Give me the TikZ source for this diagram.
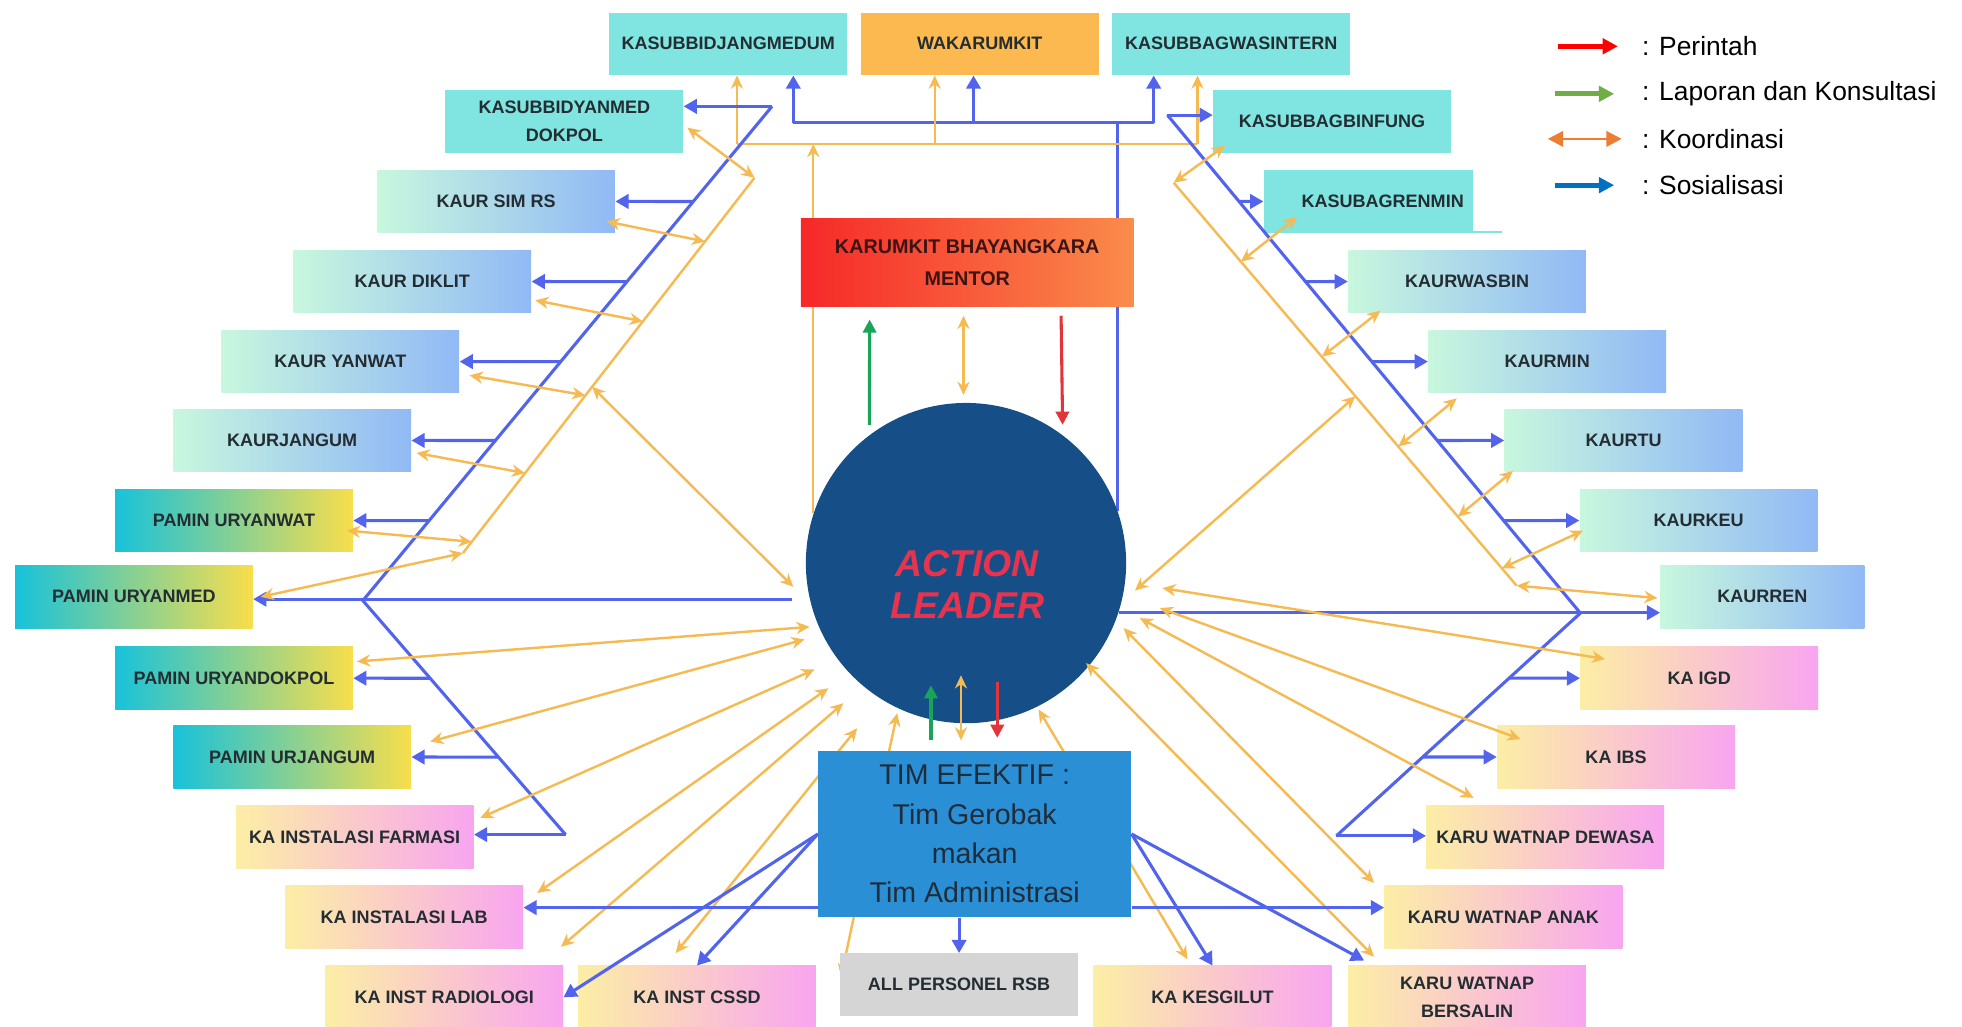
\documentclass[tikz,border=0pt]{standalone}
\usepackage{fontspec}
\setmainfont{Liberation Sans}
\usetikzlibrary{arrows.meta,calc,backgrounds}
\definecolor{txt}{RGB}{35,45,50}
\definecolor{cyanb}{RGB}{128,228,225}
\definecolor{wakab}{RGB}{251,185,80}
\definecolor{greyb}{RGB}{213,213,213}
\definecolor{mint}{RGB}{200,247,222}
\definecolor{skyb}{RGB}{145,185,245}
\definecolor{tealb}{RGB}{24,194,218}
\definecolor{yelb}{RGB}{248,222,75}
\definecolor{creamb}{RGB}{252,238,165}
\definecolor{pinkb}{RGB}{248,165,240}
\definecolor{redb}{RGB}{246,40,40}
\definecolor{orgb}{RGB}{250,140,75}
\definecolor{circ}{RGB}{22,79,135}
\definecolor{timb}{RGB}{43,143,214}
\definecolor{actred}{RGB}{232,51,79}
\definecolor{blu}{RGB}{82,100,235}
\definecolor{org}{RGB}{246,186,82}
\definecolor{grn}{RGB}{24,165,88}
\definecolor{rd}{RGB}{226,52,58}
\definecolor{lgred}{RGB}{255,0,0}
\definecolor{lggreen}{RGB}{112,173,71}
\definecolor{lgorange}{RGB}{237,125,49}
\definecolor{lgblue}{RGB}{0,112,192}
\begin{document}
\begin{tikzpicture}[x=0.02cm,y=-0.02cm,
    box/.style={minimum width=3.8cm,minimum height=1cm,inner sep=0pt,align=center,text=txt,
      font=\bfseries\fontsize{8.2}{12.5}\selectfont},
    cyanbox/.style={box,fill=cyanb},
    kaurbox/.style={box,left color=mint,right color=skyb},
    paminbox/.style={box,left color=tealb,right color=yelb},
    kabox/.style={box,left color=creamb,right color=pinkb},
    sosline/.style={blu,line width=1.4pt},
    sos/.style={sosline,-{Triangle[length=6pt,width=6.5pt]}},
    koline/.style={org,line width=1.1pt},
    koarr/.style={koline,-{Stealth[length=6pt,width=5.5pt]}},
    koord/.style={koline,{Stealth[length=6pt,width=5.5pt]}-{Stealth[length=6pt,width=5.5pt]}},
    lapor/.style={grn,line width=1.4pt,-{Triangle[length=6pt,width=6pt]}},
    perin/.style={rd,line width=1.4pt,-{Triangle[length=6pt,width=6pt]}},
    lgtext/.style={anchor=west,inner sep=0pt,font=\fontsize{12}{14}\selectfont},
    lgarr/.style={line width=2.2pt,-{Triangle[length=7pt,width=7pt]}}]
\useasboundingbox (0,0) rectangle (1568,820);
\node[cyanbox] (jangmed) at (582,35) {KASUBBIDJANGMEDUM};
\node[box,fill=wakab] (waka) at (783,35) {WAKARUMKIT};
\node[cyanbox] (wasintern) at (984,35) {KASUBBAGWASINTERN};
\node[cyanbox] (yanmed) at (451,97) {KASUBBIDYANMED\\DOKPOL};
\node[cyanbox] (binfung) at (1064.5,97) {KASUBBAGBINFUNG};
\node[cyanbox] (renmin) at (1105,161) {KASUBAGRENMIN};
\fill[white] (1177,0) rectangle (1568,185);
\node[kaurbox] (simrs) at (396.5,161) {KAUR SIM RS};
\node[kaurbox] (diklit) at (329.5,225) {KAUR DIKLIT};
\node[kaurbox] (yanwat) at (272,289) {KAUR YANWAT};
\node[kaurbox] (jangum) at (233.5,352) {KAURJANGUM};
\node[paminbox] (pyanwat) at (187,416) {PAMIN URYANWAT};
\node[paminbox] (pyanmed) at (107,477) {PAMIN URYANMED};
\node[paminbox] (pdokpol) at (187,542) {PAMIN URYANDOKPOL};
\node[paminbox] (pjangum) at (233.5,605) {PAMIN URJANGUM};
\node[kabox] (farmasi) at (283.5,669) {KA INSTALASI FARMASI};
\node[kabox] (lab) at (323,733) {KA INSTALASI LAB};
\node[kabox] (radiologi) at (355,797) {KA INST RADIOLOGI};
\node[kabox] (cssd) at (557,797) {KA INST CSSD};
\node[box,fill=greyb] (allpers) at (766.5,787) {ALL PERSONEL RSB};
\node[kabox] (kesgilut) at (969,797) {KA KESGILUT};
\node[kabox] (bersalin) at (1172.5,797) {KARU WATNAP\\BERSALIN};
\node[kabox] (anak) at (1201.5,733) {KARU WATNAP ANAK};
\node[kabox] (dewasa) at (1235,669) {KARU WATNAP DEWASA};
\node[kabox] (ibs) at (1291.5,605) {KA IBS};
\node[kabox] (igd) at (1358,542) {KA IGD};
\node[kaurbox,minimum width=3.26cm] (kaurren) at (1408.5,477) {KAURREN};
\node[kaurbox] (kaurkeu) at (1357.5,416) {KAURKEU};
\node[kaurbox] (kaurtu) at (1297.5,352) {KAURTU};
\node[kaurbox] (kaurmin) at (1236.5,289) {KAURMIN};
\node[kaurbox] (wasbin) at (1172.5,225) {KAURWASBIN};
\node[box,minimum width=5.32cm,minimum height=1.4cm,left color=redb,right color=orgb,
  text={rgb,255:red,60;green,20;blue,20},font=\bfseries\fontsize{9}{14.2}\selectfont]
  (karumkit) at (773,210) {KARUMKIT BHAYANGKARA\\MENTOR};
\node[circle,fill=circ,minimum size=5.12cm,inner sep=0pt] (al) at (772,450) {};
\node[align=center,text=actred,font=\bfseries\itshape\fontsize{17}{19.3}\selectfont] (altext) at (773,467) {ACTION\\LEADER};
\node[box,minimum width=5cm,minimum height=2.66cm,fill=timb,text={rgb,255:red,30;green,45;blue,60},
  font=\fontsize{13}{17.8}\selectfont] (tim) at (779,666.5) {TIM EFEKTIF :\\Tim Gerobak\\makan\\Tim Administrasi};
\coordinate (lbT) at (617,85);
\coordinate (lbV) at (290,480);
\coordinate (lbB) at (452,667);
\coordinate (rbT) at (933,92);
\coordinate (rbV) at (1263,490);
\coordinate (rbB) at (1068,668);
\coordinate (loT) at (603,142);
\coordinate (loB) at (370,442);
\coordinate (roT) at (938,146);
\coordinate (roB) at (1212,468);
\coordinate (bbL) at (634,98);
\coordinate (bbR) at (922,98);
\coordinate (bbM) at ($(bbL)!0.5!(bbR)$);
\coordinate (obL) at (589,115);
\coordinate (obM) at (747,115);
\coordinate (obR) at (957,115);
\coordinate (clsp) at (634,469);
\coordinate (crsp) at (907,472);
\coordinate (cdok) at (647,501);
\coordinate (cpjg) at (643,511);
\coordinate (cfar) at (651,535);
\coordinate (clab) at (662,550);
\coordinate (crad) at (674,562);
\coordinate (ccss) at (685,582);
\coordinate (call) at (717,570);
\coordinate (ckes) at (830,567);
\coordinate (cber) at (868,530);
\coordinate (cana) at (898,502);
\coordinate (cdew) at (911,494);
\coordinate (cibs) at (927,486);
\coordinate (cigd) at (929,470);
\coordinate (tl) at ($(tim.south west)+(0,-8)$);
\coordinate (tr) at ($(tim.south east)+(0,-8)$);
\begin{pgfonlayer}{background}
\fill[white] (0,0) rectangle (1568,820);
\draw[koarr] (al.162) -- (al.162 |- obL);
\draw[sosline] (al.19) -- (al.19 |- bbL);
\draw[koord] ([shift={(-17,-10)}]cssd.north) -- (ccss);
\draw[koord] ([shift={(1,19)}]allpers.north west) -- (call);
\draw[koord] ([shift={(-20,-5)}]kesgilut.north) -- (ckes);
\end{pgfonlayer}
\draw[sosline] (bbL) -- (bbR);
\draw[sos] (bbL) -- (bbL |- jangmed.south);
\draw[sos] (bbM) -- (bbM |- waka.south);
\draw[sos] (bbR) -- (bbR |- wasintern.south);
\draw[koline] (obL) -- (obR);
\draw[koarr] (obL) -- (obL |- jangmed.south);
\draw[koarr] (obM) -- (obM |- waka.south);
\draw[koarr] (obR) -- (obR |- wasintern.south);
\draw[sosline] (lbT) -- (lbV) -- (lbB);
\draw[sos] (lbT) -- (lbT -| yanmed.east);
\foreach \b in {simrs,diklit,yanwat,jangum,pyanwat}
  \draw[sos] (intersection of lbT--lbV and \b.west--\b.east) -- (\b.east);
\foreach \b in {pdokpol,pjangum}
  \draw[sos] (intersection of lbV--lbB and \b.west--\b.east) -- (\b.east);
\draw[sos] (lbB) -- (lbB -| farmasi.east);
\draw[sos,shorten <=8pt] (al.193) -- (al.193 -| pyanmed.east);
\draw[sosline] (rbT) -- (rbV) -- (rbB);
\draw[sos] (rbT) -- (rbT -| binfung.west);
\foreach \b in {renmin,wasbin,kaurmin,kaurtu,kaurkeu}
  \draw[sos] (intersection of rbT--rbV and \b.west--\b.east) -- (\b.west);
\foreach \b in {igd,ibs}
  \draw[sos] (intersection of rbV--rbB and \b.west--\b.east) -- (\b.west);
\draw[sos] (rbB) -- (rbB -| dewasa.west);
\draw[sos] (al.-18) -- (al.-18 -| kaurren.west);
\draw[koline] (loT) -- (loB);
\draw[koord] ([shift={(3,5)}]yanmed.east) -- (loT);
\draw[koord] ([shift={(-7,16)}]simrs.east) -- ($(loT)!0.17!(loB)$);
\draw[koord] ([shift={(3,15)}]diklit.east) -- ($(loT)!0.383!(loB)$);
\draw[koord] ([shift={(8,11)}]yanwat.east) -- ($(loT)!0.58!(loB)$);
\draw[koord] ([shift={(4,10)}]jangum.east) -- ($(loT)!0.787!(loB)$);
\draw[koord] ([shift={(-5,8)}]pyanwat.east) -- ($(loT)!0.97!(loB)$);
\draw[koord] ([shift={(6,0)}]pyanmed.east) -- (loB);
\draw[koord] (clsp) -- ($(loT)!0.557!(loB)$);
\draw[koline] (roT) -- (roB);
\draw[koord] ([shift={(10,-6)}]binfung.south west) -- (roT);
\draw[koord] ([shift={(27,-13)}]renmin.south west) -- ($(roT)!0.196!(roB)$);
\draw[koord] ([shift={(26,-2)}]wasbin.south west) -- ($(roT)!0.432!(roB)$);
\draw[koord] ([shift={(23,4)}]kaurmin.south west) -- ($(roT)!0.655!(roB)$);
\draw[koord] ([shift={(7,-1)}]kaurtu.south west) -- ($(roT)!0.829!(roB)$);
\draw[koord] ([shift={(3,8)}]kaurkeu.west) -- ($(roT)!0.957!(roB)$);
\draw[koord] ([shift={(-2,1)}]kaurren.west) -- (roB);
\draw[koord] (crsp) -- ($(roT)!0.53!(roB)$);
\draw[koord] ([shift={(3,12)}]pdokpol.north east) -- (cdok);
\draw[koord] ([shift={(15,13)}]pjangum.north east) -- (cpjg);
\draw[koord] ([shift={(5,10)}]farmasi.north east) -- (cfar);
\draw[koord] ([shift={(11,6)}]lab.north east) -- (clab);
\draw[koord] ([shift={(-2,-15)}]radiologi.north east) -- (crad);
\draw[koord] ([shift={(21,-7)}]bersalin.north west) -- (cber);
\draw[koord] ([shift={(-8,-2)}]anak.north west) -- (cana);
\draw[koord] ([shift={(38,-6)}]dewasa.north west) -- (cdew);
\draw[koord] ([shift={(19,11)}]ibs.north west) -- (cibs);
\draw[koord] ([shift={(20,10)}]igd.north west) -- (cigd);
\draw[lapor] ($(al.127)+(0,-8)$) -- ($(karumkit.south)+(-78,10)$);
\draw[koord] ($(al.north)+(-2,-6)$) -- ($(karumkit.south)+(-3,7)$);
\draw[perin] ($(karumkit.south)+(75,7)$) -- ($(al.53)+(0,-8)$);
\draw[lapor] ($(tim.north)+(-35,-8)$) -- ($(tim.north)+(-35,-52)$);
\draw[koord] ($(tim.north)+(-11,-8)$) -- ($(tim.north)+(-11,-60)$);
\draw[perin] ($(tim.north)+(18,-55)$) -- ($(tim.north)+(18,-10)$);
\draw[sos] (tim.west) -- (radiologi.east);
\draw[sos] (tim.west) -- (cssd.north);
\draw[sos] (tl) -- (tl -| lab.east);
\draw[sos] (tr) -- (tr -| anak.west);
\draw[sos] (allpers.north |- tim.south) -- (allpers.north);
\draw[sos] (tim.east) -- (kesgilut.north);
\draw[sos] (tim.east) -- ([shift={(13,-4)}]bersalin.north west);
\node[lgtext] (lgP) at (1312,37) {: Perintah};
\node[lgtext] (lgL) at (1312,75) {: Laporan dan Konsultasi};
\node[lgtext] (lgK) at (1312,111) {: Koordinasi};
\node[lgtext] (lgS) at (1312,148) {: Sosialisasi};
\draw[lgarr,lgred] ($(lgP.west)+(-67,0)$) -- ($(lgP.west)+(-19,0)$);
\draw[lgarr,lggreen] ($(lgL.west)+(-69,0)$) -- ($(lgL.west)+(-22,0)$);
\draw[lgorange,line width=1.2pt,{Triangle[length=7pt,width=7pt]}-{Triangle[length=7pt,width=7pt]}] ($(lgK.west)+(-75,0)$) -- ($(lgK.west)+(-16,0)$);
\draw[lgarr,lgblue] ($(lgS.west)+(-69,0)$) -- ($(lgS.west)+(-22,0)$);
\end{tikzpicture}
\end{document}
